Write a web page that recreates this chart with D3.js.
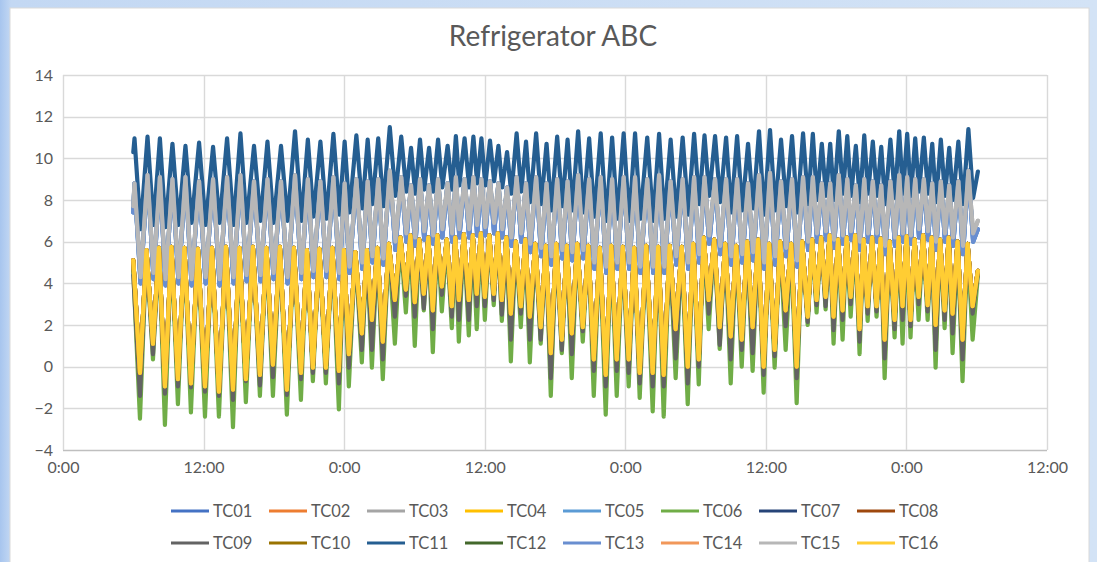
<!DOCTYPE html>
<html><head><meta charset="utf-8">
<script src="https://cdn.jsdelivr.net/npm/d3@7"></script>
<style>
html,body{margin:0;padding:0;background:#cfe0f5;overflow:hidden;}
svg{display:block;}
</style></head><body>
<svg id="chart" width="1097" height="562"></svg>
<script>
// ---------------- DATA ----------------
// time (hours from first 0:00) of each compressor-cycle minimum of the lower group
const troughTimes = [6.57,7.68,8.70,9.81,10.92,12.12,13.31,14.51,15.61,16.81,17.92,19.11,
 20.31,21.33,22.44,23.55,24.40,25.51,26.37,27.30,28.33,29.27,30.03,30.80,31.57,32.34,33.19,33.79,34.64,
 35.32,36.01,36.77,37.46,38.23,39.08,39.85,40.78,41.64,42.58,43.43,44.37,45.31,46.33,47.27,48.29,49.23,
 50.34,51.28,52.30,53.33,54.27,55.12,56.06,57.00,57.94,58.87,59.81,60.75,61.69,62.63,63.57,
 64.33,65.10,65.78,66.55,67.24,68.00,68.69,69.45,70.14,70.99,71.67,72.35,73.04,73.81,74.49,75.26,75.94,76.79,77.65];
const startTime = 6.0;
const endTime = 78.1;

// lower group: yellow (TC04/TC16 etc.) minima
const yellowTrough = [-0.3,1.1,-0.95,-0.6,-0.8,-0.95,-1.2,-1.1,-0.6,-0.4,0.1,-1.1,
 -0.3,-0.05,-0.05,-0.2,0.6,1.6,2.25,1.2,3.2,3.7,3.1,3.5,2.7,3.85,2.9,3.2,3.2,
 3.5,3.35,3.5,3.2,2.55,2.9,2.4,1.9,0.65,1.3,1.6,1.9,0.35,-0.4,0.35,0.35,-0.3,
 -0.3,-0.4,1.8,0.0,0.35,3.2,1.9,1.45,1.3,1.9,0.0,0.8,2.7,0.0,
 2.4,3.2,3.35,2.4,2.7,3.35,1.8,2.9,2.9,1.3,2.25,2.9,2.25,3.35,2.95,2.0,2.7,2.55,1.3,2.9];
// TC09 minima
const tc09Trough = [-1.4,0.6,-1.3,-0.95,-1.0,-1.2,-1.4,-1.6,-0.7,-0.9,-0.5,-1.35,
 -0.6,-0.3,-0.3,-0.8,-0.05,0.8,0.8,0.35,2.4,3.4,2.4,2.8,1.8,3.45,2.4,2.25,2.25,
 2.9,2.9,3.2,2.5,1.3,2.55,1.3,1.3,-0.55,0.8,0.6,1.7,-0.2,-0.95,-0.2,-0.3,-0.8,
 -0.95,-0.95,0.4,-0.8,0.0,2.55,1.05,0.35,0.8,0.65,-0.4,0.5,1.95,-0.55,
 2.15,2.95,2.9,1.75,2.25,3.0,1.2,2.55,2.65,0.4,1.8,2.25,1.95,3.0,2.65,0.8,2.25,1.6,0.35,2.55];
// TC06 minima
const tc06Trough = [-2.5,0.35,-2.8,-1.8,-2.2,-2.4,-2.4,-2.9,-1.7,-1.4,-1.4,-2.3,
 -1.6,-0.7,-0.8,-2.05,-0.95,0.2,-0.05,-0.6,1.1,2.6,1.0,2.7,0.7,2.65,1.85,1.2,1.5,
 1.8,2.25,2.95,2.2,0.25,1.9,0.2,1.1,-1.4,0.65,-0.55,1.2,-1.4,-2.3,-1.4,-0.95,-1.5,
 -2.15,-2.4,-0.55,-1.8,-0.85,1.8,0.85,-0.8,0.0,-0.2,-1.25,-0.05,0.8,-1.75,
 2.0,2.6,2.75,1.1,1.3,2.4,0.6,2.2,2.4,-0.55,1.4,1.1,1.4,2.25,2.25,-0.05,1.85,0.65,-0.7,1.3];
// lower group maxima (between consecutive minima)
const yellowPeak = [5.6,5.7,5.75,5.7,5.65,5.7,5.75,5.7,5.75,5.7,5.75,5.7,
 5.6,5.65,5.7,5.6,5.5,5.6,5.7,5.9,6.2,6.3,6.1,6.2,6.3,6.1,6.2,6.35,6.3,
 6.4,6.3,6.4,6.2,6.0,6.1,5.9,5.8,5.9,5.8,5.9,5.8,5.7,5.8,5.75,5.7,5.8,
 5.75,5.8,5.75,5.9,6.2,6.1,5.9,5.8,6.0,6.1,5.9,6.0,5.9,6.0,
 6.1,6.2,6.3,6.1,6.2,6.3,6.1,6.2,6.15,6.0,6.2,6.25,6.1,6.3,6.2,6.1,6.2,6.0,5.9];

// upper group: TC11 maxima / minima
const tc11Peak = [10.96,11.04,10.96,10.7,10.6,10.75,10.55,10.96,11.2,10.6,10.8,10.6,
 11.3,10.9,10.8,11.17,10.8,11.1,10.9,10.96,11.5,11.04,10.5,10.9,10.5,10.9,10.6,11.07,10.96,
 11.04,10.96,10.85,10.6,10.3,11.2,10.8,11.2,10.7,11.04,10.9,11.3,10.96,11.2,11.0,11.2,11.2,
 11.0,11.17,10.9,11.0,11.17,11.1,11.07,11.0,11.07,10.7,11.3,11.36,10.9,11.07,11.2,
 11.17,10.7,10.7,11.3,11.07,10.6,11.1,10.8,10.55,10.9,11.3,11.17,10.96,11.0,10.7,10.9,10.5,10.8,11.4];
const tc11Trough = [6.6,6.8,6.7,6.8,6.9,6.8,6.9,6.8,6.9,7.0,6.9,7.0,
 7.0,7.2,7.1,7.3,7.4,7.6,7.8,7.7,8.2,8.4,8.3,8.5,8.4,8.6,8.5,8.7,8.6,
 8.8,8.7,8.9,8.6,8.3,8.4,7.9,7.8,7.5,7.7,7.5,7.4,7.2,7.0,7.1,7.0,7.1,
 7.0,7.1,7.2,7.3,7.8,8.2,7.9,7.4,7.5,7.6,7.3,7.5,7.7,7.4,7.8,
 8.0,8.2,8.0,8.3,8.2,7.9,8.3,8.2,7.8,8.1,8.3,8.2,8.4,8.3,7.9,8.2,8.0,7.8,8.1];
// TC15 / TC03 maxima / minima
const greyPeak = [8.8,9.2,9.1,9.0,9.1,8.9,9.0,9.1,9.2,8.9,9.0,8.9,
 9.2,9.0,8.9,9.1,8.8,9.0,8.9,9.0,9.4,9.1,8.7,9.0,8.7,9.0,8.8,9.1,9.0,
 9.1,9.0,8.9,8.8,8.6,9.1,8.8,9.1,8.8,9.0,8.9,9.2,9.0,9.1,9.0,9.1,9.1,
 9.0,9.2,8.9,9.0,9.1,9.1,9.0,9.0,9.0,8.8,9.2,9.3,8.9,9.0,9.1,
 9.1,8.8,8.8,9.2,9.0,8.7,9.0,8.9,8.7,8.9,9.2,9.1,9.0,9.0,8.8,8.9,8.7,8.9,9.4];
const greyTrough = [4.3,4.5,4.2,4.3,4.2,4.3,4.2,4.3,4.4,4.4,4.5,4.3,
 4.5,4.6,4.6,4.5,4.8,5.0,5.3,5.2,6.0,6.4,6.2,6.5,6.3,6.6,6.4,6.6,6.6,
 6.8,6.7,6.9,6.6,6.2,6.4,5.9,5.7,5.3,5.6,5.5,5.6,5.0,4.8,5.0,5.0,4.8,
 4.8,4.8,5.3,5.0,5.4,6.3,5.8,5.3,5.4,5.5,5.0,5.3,5.7,5.1,6.0,
 6.4,6.5,6.1,6.3,6.5,6.0,6.4,6.4,5.8,6.2,6.4,6.3,6.6,6.5,6.0,6.4,6.2,5.8,6.4];
// TC13 / TC01 / TC05 minima
const lightBlueTrough = [4.0,4.2,3.9,4.0,3.9,4.0,3.9,4.0,4.1,4.1,4.2,4.0,
 4.2,4.3,4.3,4.2,4.5,4.7,5.0,4.9,5.6,6.0,5.8,6.1,5.9,6.2,6.0,6.2,6.2,
 6.3,6.3,6.4,6.2,5.8,6.0,5.5,5.3,4.9,5.2,5.1,5.2,4.7,4.5,4.7,4.7,4.5,
 4.5,4.5,4.9,4.7,5.0,5.9,5.4,4.9,5.0,5.1,4.7,4.9,5.3,4.8,5.6,
 6.0,6.1,5.7,5.9,6.1,5.6,6.0,6.0,5.4,5.8,6.0,5.9,6.2,6.1,5.6,6.0,5.8,5.4,6.0];

const seriesNames = ["TC01","TC02","TC03","TC04","TC05","TC06","TC07","TC08",
                     "TC09","TC10","TC11","TC12","TC13","TC14","TC15","TC16"];
const startValues = [7.4,5.1,7.7,5.1,7.4,4.6,5.1,5.1,4.4,5.1,10.3,5.1,7.4,5.1,7.7,5.1];
const endValues   = [6.6,4.6,7.0,4.6,6.6,4.4,4.6,4.6,4.5,4.6,9.36,4.6,6.6,4.6,7.0,4.6];
const xTickValues = [0,12,24,36,48,60,72,84];
const xTickLabels = ["0:00","12:00","0:00","12:00","0:00","12:00","0:00","12:00"];
const yTickValues = [-4,-2,0,2,4,6,8,10,12,14];

// which read arrays each series follows (hidden series share the visible ones)
const seriesShape = {
  TC01:["upper",greyPeak,lightBlueTrough], TC02:["lower",yellowTrough,yellowPeak],
  TC03:["upper",greyPeak,greyTrough],      TC04:["lower",yellowTrough,yellowPeak],
  TC05:["upper",greyPeak,lightBlueTrough], TC06:["lower",tc06Trough,yellowPeak],
  TC07:["lower",yellowTrough,yellowPeak],  TC08:["lower",yellowTrough,yellowPeak],
  TC09:["lower",tc09Trough,yellowPeak],    TC10:["lower",yellowTrough,yellowPeak],
  TC11:["upper",tc11Peak,tc11Trough],      TC12:["lower",yellowTrough,yellowPeak],
  TC13:["upper",greyPeak,lightBlueTrough], TC14:["lower",yellowTrough,yellowPeak],
  TC15:["upper",greyPeak,greyTrough],      TC16:["lower",yellowTrough,yellowPeak]
};

// ---------------- STYLE ----------------
const seriesColors = ["#4472C4","#ED7D31","#A5A5A5","#FFC000","#5B9BD5","#70AD47","#264478","#9E480E",
                      "#636363","#997300","#255E91","#43682B","#698ED0","#F1975A","#B7B7B7","#FFCD33"];
const W = 1097, H = 562;
const plot = {left:63, right:1047, top:75, bottom:450};
const FONT = "Lato, 'Open Sans', sans-serif";
const textColor = "#595959";

const svg = d3.select("#chart");
const defs = svg.append("defs");
const grad = defs.append("linearGradient").attr("id","bgGrad").attr("x1",0).attr("x2",1).attr("y1",0).attr("y2",0);
grad.append("stop").attr("offset","0%").attr("stop-color","#a7c5ee");
grad.append("stop").attr("offset","1%").attr("stop-color","#c3d8f3");
grad.append("stop").attr("offset","100%").attr("stop-color","#d3e3f6");
svg.append("rect").attr("width",W).attr("height",H).attr("fill","url(#bgGrad)");
svg.append("rect").attr("x",10).attr("y",8).attr("width",1079).attr("height",H)
   .attr("fill","#ffffff").attr("stroke","#d9d9d9");

const x = d3.scaleLinear().domain([0,84]).range([plot.left, plot.right]);
const y = d3.scaleLinear().domain([-4,14]).range([plot.bottom, plot.top]);

// gridlines
svg.append("g").selectAll("line.h").data(yTickValues).join("line")
  .attr("x1",plot.left).attr("x2",plot.right)
  .attr("y1",d=>Math.round(y(d))+0.5).attr("y2",d=>Math.round(y(d))+0.5)
  .attr("stroke",d=>d===-4?"#bfbfbf":"#d9d9d9").attr("stroke-width",1.4);
svg.append("g").selectAll("line.v").data(xTickValues).join("line")
  .attr("y1",plot.top).attr("y2",plot.bottom)
  .attr("x1",d=>Math.round(x(d))+0.5).attr("x2",d=>Math.round(x(d))+0.5)
  .attr("stroke","#d9d9d9").attr("stroke-width",1.4);

// axes
const yAxis = svg.append("g").attr("transform",`translate(${plot.left},0)`)
  .call(d3.axisLeft(y).tickValues(yTickValues).tickSize(0).tickPadding(10).tickFormat(d3.format("d")));
const xAxis = svg.append("g").attr("transform",`translate(0,${plot.bottom})`)
  .call(d3.axisBottom(x).tickValues(xTickValues).tickSize(0).tickPadding(12)
        .tickFormat((d,i)=>xTickLabels[i]));
[yAxis,xAxis].forEach(a=>{
  a.select(".domain").remove();
  a.selectAll("text").attr("fill",textColor).style("font-family",FONT).style("font-size","16px");
});

// build series points
function upperPoints(peaks, troughs, s0, s1){
  const n = troughTimes.length, pts = [[startTime, s0]];
  for(let i=0;i<n;i++){
    const dPrev = i>0 ? troughTimes[i]-troughTimes[i-1] : troughTimes[1]-troughTimes[0];
    const dNext = i<n-1 ? troughTimes[i+1]-troughTimes[i] : dPrev;
    pts.push([troughTimes[i]-0.42*dPrev, peaks[i]]);
    pts.push([troughTimes[i]+0.05*dNext, troughs[i]]);
  }
  pts.push([endTime, s1]);
  return pts;
}
function lowerPoints(troughs, peaks, s0, s1){
  const n = troughTimes.length, pts = [[startTime, s0]];
  for(let i=0;i<n;i++){
    pts.push([troughTimes[i], troughs[i]]);
    if(i<n-1) pts.push([troughTimes[i]+0.5*(troughTimes[i+1]-troughTimes[i]), peaks[i]]);
  }
  pts.push([endTime, s1]);
  return pts;
}
const series = seriesNames.map((name,k)=>{
  const [kind,a,b] = seriesShape[name];
  const pts = kind==="upper" ? upperPoints(a,b,startValues[k],endValues[k])
                             : lowerPoints(a,b,startValues[k],endValues[k]);
  return {name, color:seriesColors[k], pts};
});

const line = d3.line().x(d=>x(d[0])).y(d=>y(d[1])).curve(d3.curveLinear);
svg.append("g").selectAll("path").data(series).join("path")
  .attr("d",d=>line(d.pts)).attr("fill","none").attr("stroke",d=>d.color)
  .attr("stroke-width",4.2).attr("stroke-linejoin","round").attr("stroke-linecap","round");

// title
svg.append("text").attr("x",553).attr("y",46).attr("text-anchor","middle")
  .attr("fill",textColor).style("font-family",FONT).style("font-size","28px").text("Refrigerator ABC");

// legend
const legend = svg.append("g");
const items = legend.selectAll("g").data(series).join("g")
  .attr("transform",(d,i)=>`translate(${171 + (i%8)*98},${i<8?511:543})`);
items.append("line").attr("x1",0).attr("x2",38).attr("y1",0).attr("y2",0)
  .attr("stroke",d=>d.color).attr("stroke-width",3.2);
items.append("text").attr("x",42).attr("y",6).attr("fill",textColor)
  .style("font-family",FONT).style("font-size","16.5px").text(d=>d.name);
</script>
</body></html>
